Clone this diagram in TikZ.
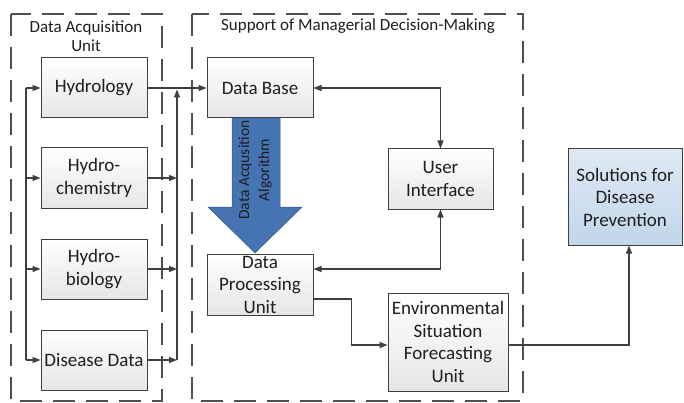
\documentclass[tikz,border=0pt]{standalone}
\usepackage{fontspec}
\setmainfont{Carlito}
\usetikzlibrary{arrows.meta}
\definecolor{linec}{RGB}{64,64,64}
\definecolor{dashc}{RGB}{80,80,80}
\definecolor{blueA}{RGB}{70,115,178}
\definecolor{blueE}{RGB}{50,85,140}
\definecolor{solTop}{RGB}{222,233,244}
\definecolor{solBot}{RGB}{194,214,234}
\definecolor{txt}{RGB}{30,30,30}
\begin{document}
\begin{tikzpicture}[x=1pt,y=-1pt,
 box/.style={draw=linec, line width=1pt, top color=white, bottom color=black!10, minimum width=106pt, minimum height=60pt, align=center, inner sep=1pt, font=\fontsize{19}{22.5}\selectfont, text=txt},
 solbox/.style={box, top color=solTop, bottom color=solBot},
 region/.style={draw=dashc, line width=1.5pt, dash pattern=on 22pt off 11pt},
 arr/.style={draw=linec, line width=1.2pt, -{Triangle[length=8pt,width=6pt]}},
 biarr/.style={draw=linec, line width=1.2pt, {Triangle[length=8pt,width=6pt]}-{Triangle[length=8pt,width=6pt]}},
 lbl/.style={font=\fontsize{17}{19.5}\selectfont, text=txt, align=center}
]
\useasboundingbox (0,0) rectangle (684,403);
\draw[region] (11,14) rectangle (162,401);
\draw[region] (192,14) rectangle (523,401);
\node[lbl] (lab1) at (86,36) {Data Acquisition\\Unit};
\node[lbl] (lab2) at (358,26) {Support of Managerial Decision-Making};

% big arrow
\filldraw[fill=blueA, draw=blueE, line width=0.5pt] (232,118) -- (280,118) -- (280,207) -- (302,207) -- (255,253) -- (208,207) -- (232,207) -- cycle;
\node[rotate=90, font=\fontsize{15.5}{20}\selectfont, align=center, text=txt] (alg) at (255,170) {Data Acqusition\\Algorithm};

\node[box] (hyd) at (94,88) {Hydrology};
\node[box] (hch) at (94,178) {Hydro-\\chemistry};
\node[box] (hbio) at (94,269) {Hydro-\\biology};
\node[box] (dis) at (94,360) {Disease Data};
\node[box] (db) at (260,88) {Data Base};
\node[box, minimum width=105pt] (ui) at (440.5,179) {User\\Interface};
\node[box, minimum height=61pt] (dpu) at (260,284.5) {Data\\Processing\\Unit};
\node[box, minimum width=120pt, minimum height=98pt] (env) at (448,342) {Environmental\\Situation\\Forecasting\\Unit};
\node[solbox, minimum width=114pt, minimum height=96pt] (sol) at (625,197) {Solutions for\\Disease\\Prevention};

\coordinate (lbus) at (26,0);
\coordinate (rbus) at (177,0);
\draw[linec, line width=1.2pt] (lbus |- hyd.west) -- (lbus |- dis.west);
\draw[arr] (lbus |- hyd.west) -- (hyd.west);
\draw[arr] (lbus |- hch.west) -- (hch.west);
\draw[arr] (lbus |- hbio.west) -- (hbio.west);
\draw[arr] (lbus |- dis.west) -- (dis.west);

\draw[arr] (hyd.east) -- (db.west);
\draw[arr] (hch.east) -- (rbus |- hch.east);
\draw[arr] (hbio.east) -- (rbus |- hbio.east);
\draw[arr] (dis.east) -- (rbus |- dis.east);
\draw[arr, shorten >=1.5pt] (rbus |- dis.east) -- (rbus |- hyd.east);

\draw[biarr] (db.east) -| (ui.north);
\draw[biarr] (ui.south) |- ([yshift=15.5pt]dpu.east);
\draw[arr] ([yshift=-14.5pt]dpu.east) -- ++(38,0) |- ([yshift=-3pt]env.west);
\draw[arr] ([yshift=-3pt]env.east) -| ([xshift=4pt]sol.south);
\end{tikzpicture}
\end{document}
